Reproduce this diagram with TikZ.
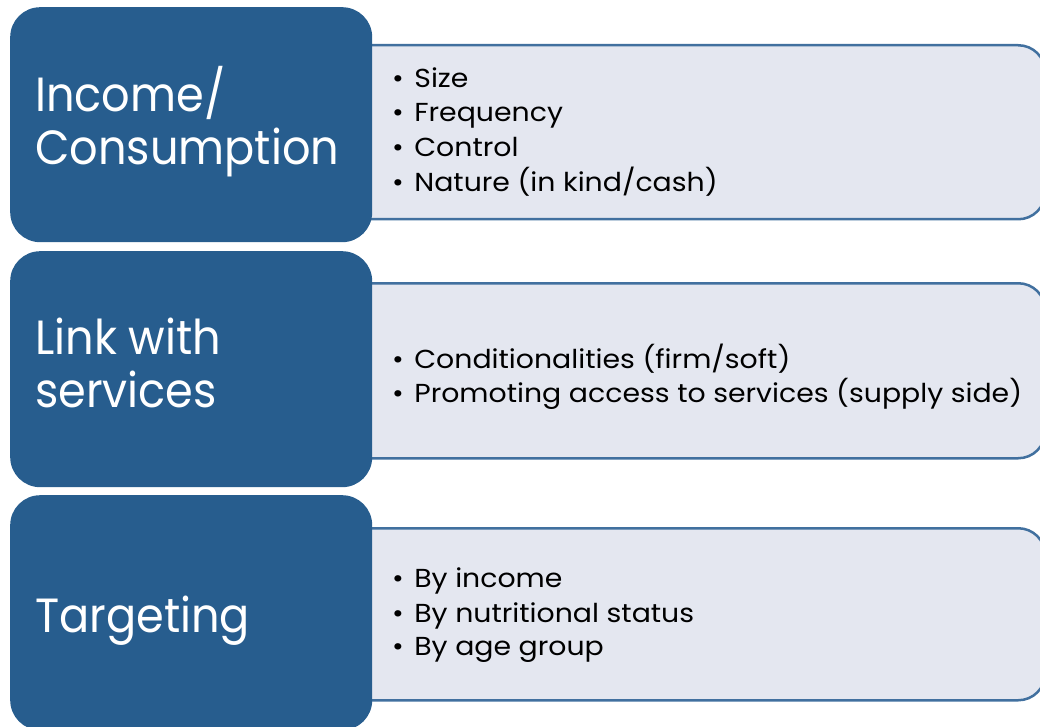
\documentclass[tikz,border=0pt]{standalone}
\usepackage{fontspec}
\setmainfont{Poppins}
\newfontfamily\labelfont[FakeStretch=0.93]{Poppins}
\newfontfamily\itemfont[FakeStretch=1.09]{Poppins}
\definecolor{darkblue}{HTML}{275D8E}
\definecolor{lightfill}{HTML}{E4E7F0}
\definecolor{lightline}{HTML}{41709F}
\begin{document}
\begin{tikzpicture}[x=1pt,y=-1pt,
  darkbox/.style={fill=darkblue, draw=none, rounded corners=30pt, anchor=north west, inner sep=0pt, minimum width=362pt},
  lightbox/.style={fill=lightfill, draw=lightline, line width=2.5pt, rounded corners=27pt, anchor=north west, inner sep=0pt, minimum width=710pt},
  label/.style={anchor=base west, inner sep=0pt, text=white, font=\labelfont\fontsize{48}{54}\selectfont},
  item/.style={anchor=base west, inner sep=0pt, text=black, font=\itemfont\fontsize{26}{34}\selectfont}]
\useasboundingbox (0,0) rectangle (1040,727);
\begin{scope}
\clip (0,0) rectangle (1040,727);
% row 1
\node[lightbox, minimum height=174pt] (l1) at (334,44) {};
\node[darkbox, minimum height=235pt] (d1) at (10,7) {};
% row 2
\node[lightbox, minimum height=175pt] (l2) at (334,282) {};
\node[darkbox, minimum height=236pt] (d2) at (10,251) {};
% row 3
\node[lightbox, minimum height=172pt] (l3) at (334,527) {};
\node[darkbox, minimum height=235pt] (d3) at (10,495) {};
\end{scope}
% labels
\node[label] (t1a) at (35,112) {Income/};
\node[label] (t1b) at (35,165) {Consumption};
\node[label] (t2a) at (35,354) {Link with};
\node[label] (t2b) at (35,407) {services};
\node[label] (t3) at (35,632) {Targeting};
% items
\node[item] (i11) at (392,88) {•\hspace{10.5pt}Size};
\node[item] (i12) at (392,122) {•\hspace{10.5pt}Frequency};
\node[item] (i13) at (392,157) {•\hspace{10.5pt}Control};
\node[item] (i14) at (392,192) {•\hspace{10.5pt}Nature (in kind/cash)};
\node[item] (i21) at (392,368) {•\hspace{10.5pt}Conditionalities (firm/soft)};
\node[item] (i22) at (392,402) {•\hspace{10.5pt}Promoting access to services (supply side)};
\node[item] (i31) at (392,587) {•\hspace{10.5pt}By income};
\node[item] (i32) at (392,622) {•\hspace{10.5pt}By nutritional status};
\node[item] (i33) at (392,655) {•\hspace{10.5pt}By age group};
\end{tikzpicture}
\end{document}
